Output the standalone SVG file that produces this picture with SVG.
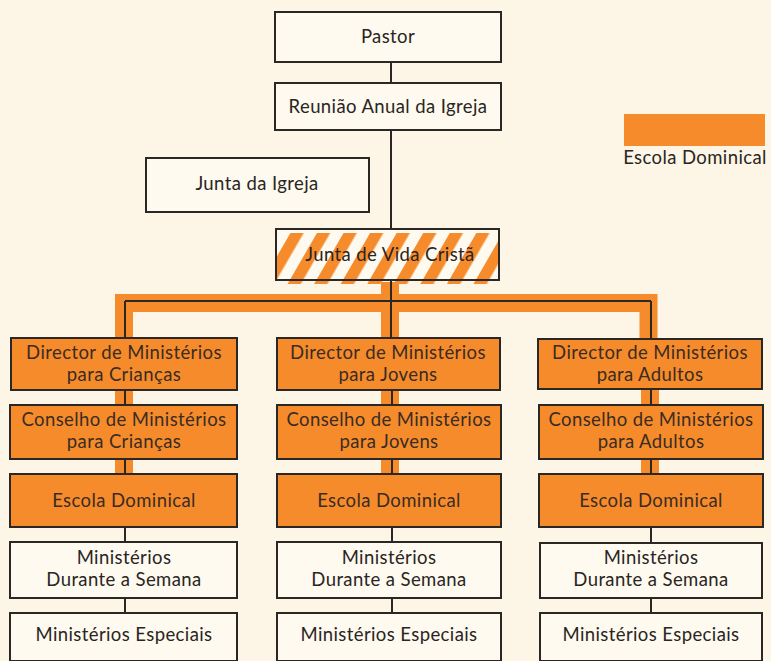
<svg xmlns="http://www.w3.org/2000/svg" width="771" height="661" viewBox="0 0 771 661">
<defs>
<pattern id="stripes" patternUnits="userSpaceOnUse" width="23" height="20" patternTransform="rotate(30)">
<rect x="0" y="0" width="11.5" height="20" fill="#f68b2c"/>
</pattern>
</defs>
<style>
.box{fill:#fefaf0;stroke:#2a2724;stroke-width:2}
.obox{fill:#f68b2c;stroke:#2a2724;stroke-width:2}
.t{font-family:Lato,"Open Sans","Liberation Sans",sans-serif;font-size:18.5px;letter-spacing:0.4px;fill:#2a2522;text-anchor:middle}
.ot{fill:#3b2c22}
.band{fill:none;stroke:#f68b2c;stroke-width:18}
.ln{fill:none;stroke:#2a2724;stroke-width:2}
</style>
<rect width="771" height="661" fill="#fdf6e6"/>

<g id="connectors">
<path class="band" d="M124,340 V303 H648.5 V340"/>
<path class="band" d="M390,282 V340"/>
<path class="band" d="M124,389 V407 M124,458 V476 M390,389 V407 M390,458 V476 M650,389 V407 M650,458 V476"/>
<path class="ln" d="M391,62 V83 M391,130 V229 M391,280 V338 M125,301 H651 M125,301 V338 M651,301 V339"/>
<path class="ln" d="M125,390 V405 M125,459 V474 M125,527 V542 M125,598 V613"/>
<path class="ln" d="M392,390 V405 M392,459 V474 M392,527 V542 M392,598 V613"/>
<path class="ln" d="M651,389 V405 M651,459 V474 M651,527 V543 M651,598 V613"/>
</g>

<g id="pastor"><rect class="box" x="275" y="12" width="226" height="50"/><text class="t" x="388" y="43">Pastor</text></g>
<g id="reuniao"><rect class="box" x="275" y="83" width="226" height="47"/><text class="t" x="388" y="113">Reunião Anual da Igreja</text></g>
<g id="junta-igreja"><rect class="box" x="146" y="158" width="223" height="54"/><text class="t" x="257" y="190">Junta da Igreja</text></g>
<g id="junta-vida"><rect x="276" y="229" width="223" height="51" fill="#fefaf0"/><rect x="277" y="233" width="223" height="51" fill="url(#stripes)"/><rect x="276" y="229" width="223" height="51" fill="none" stroke="#2a2724" stroke-width="2"/><text class="t" x="390" y="261">Junta de Vida Cristã</text></g>

<g id="legend"><rect x="624" y="114" width="141" height="32" fill="#f68b2c"/><text class="t" x="695" y="164">Escola Dominical</text></g>

<g id="dir-criancas"><rect class="obox" x="11" y="338" width="226" height="52"/><text class="t ot" x="124" y="359">Director de Ministérios</text><text class="t ot" x="124" y="381">para Crianças</text></g>
<g id="dir-jovens"><rect class="obox" x="277" y="338" width="223" height="52"/><text class="t ot" x="388" y="359">Director de Ministérios</text><text class="t ot" x="388" y="381">para Jovens</text></g>
<g id="dir-adultos"><rect class="obox" x="538" y="339" width="224" height="50"/><text class="t ot" x="650" y="359">Director de Ministérios</text><text class="t ot" x="650" y="381">para Adultos</text></g>

<g id="cons-criancas"><rect class="obox" x="10" y="405" width="227" height="54"/><text class="t ot" x="124" y="426">Conselho de Ministérios</text><text class="t ot" x="124" y="448">para Crianças</text></g>
<g id="cons-jovens"><rect class="obox" x="277" y="405" width="224" height="54"/><text class="t ot" x="389" y="426">Conselho de Ministérios</text><text class="t ot" x="389" y="448">para Jovens</text></g>
<g id="cons-adultos"><rect class="obox" x="539" y="405" width="224" height="54"/><text class="t ot" x="651" y="426">Conselho de Ministérios</text><text class="t ot" x="651" y="448">para Adultos</text></g>

<g id="escola-criancas"><rect class="obox" x="10" y="474" width="227" height="53"/><text class="t ot" x="124" y="507">Escola Dominical</text></g>
<g id="escola-jovens"><rect class="obox" x="277" y="474" width="224" height="53"/><text class="t ot" x="389" y="507">Escola Dominical</text></g>
<g id="escola-adultos"><rect class="obox" x="539" y="474" width="224" height="53"/><text class="t ot" x="651" y="507">Escola Dominical</text></g>

<g id="sem-criancas"><rect class="box" x="10" y="542" width="227" height="56"/><text class="t" x="124" y="564">Ministérios</text><text class="t" x="124" y="586">Durante a Semana</text></g>
<g id="sem-jovens"><rect class="box" x="277" y="542" width="224" height="56"/><text class="t" x="389" y="564">Ministérios</text><text class="t" x="389" y="586">Durante a Semana</text></g>
<g id="sem-adultos"><rect class="box" x="540" y="543" width="222" height="55"/><text class="t" x="651" y="564">Ministérios</text><text class="t" x="651" y="586">Durante a Semana</text></g>

<g id="esp-criancas"><rect class="box" x="10" y="613" width="227" height="48"/><text class="t" x="124" y="641">Ministérios Especiais</text></g>
<g id="esp-jovens"><rect class="box" x="277" y="613" width="224" height="48"/><text class="t" x="389" y="641">Ministérios Especiais</text></g>
<g id="esp-adultos"><rect class="box" x="540" y="613" width="222" height="48"/><text class="t" x="651" y="641">Ministérios Especiais</text></g>
</svg>
